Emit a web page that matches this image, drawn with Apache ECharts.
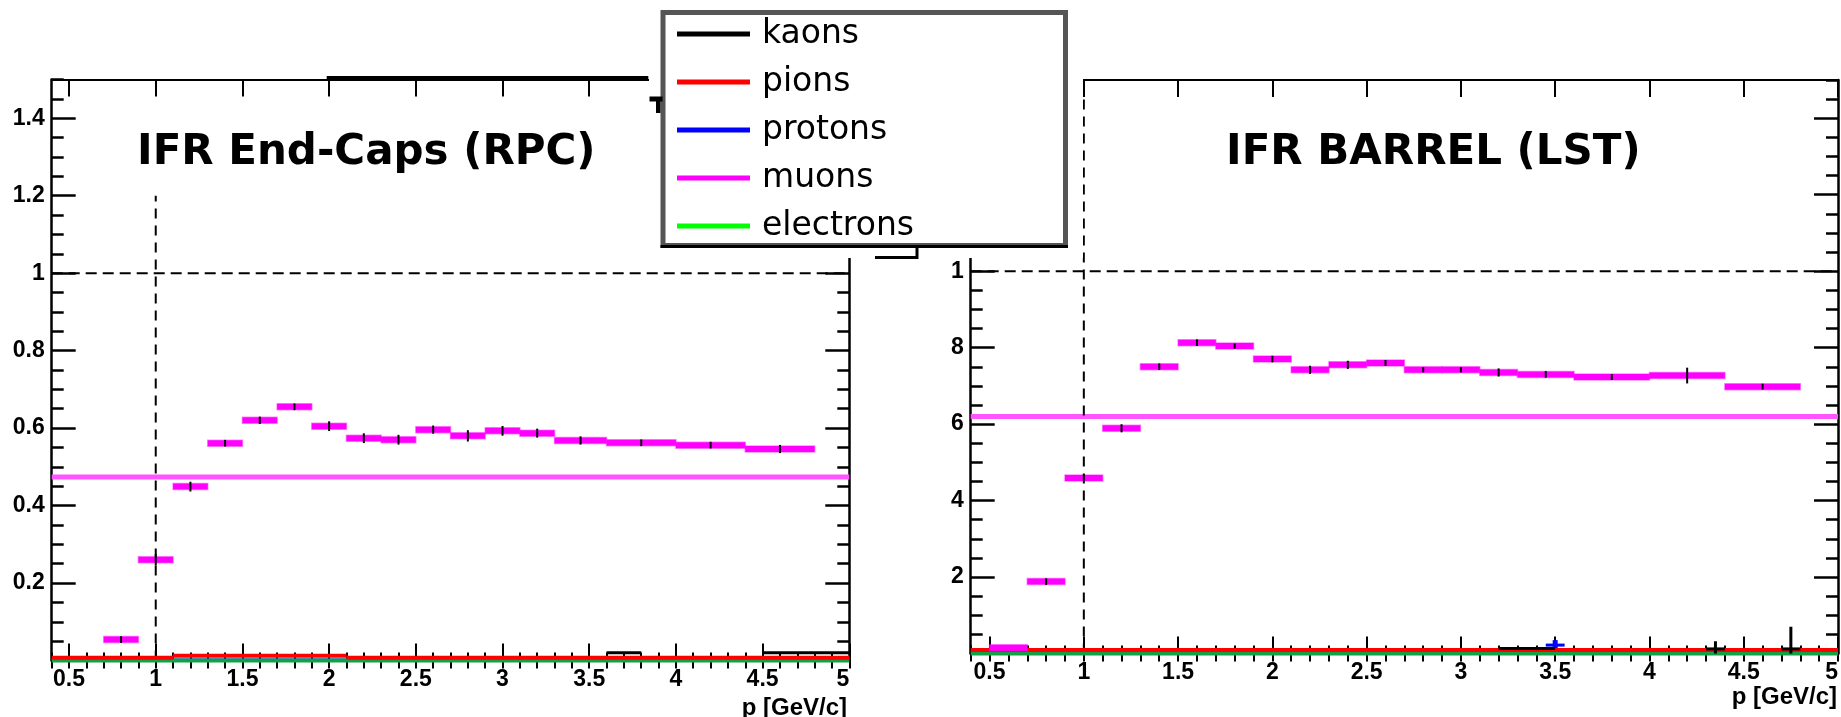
<!DOCTYPE html>
<html>
<head>
<meta charset="utf-8">
<script src="https://cdn.jsdelivr.net/npm/echarts@6/dist/echarts.min.js"></script>
<style>
  html, body { margin: 0; padding: 0; background: #ffffff; }
  #chart { width: 1841px; height: 717px; }
</style>
</head>
<body>
<div id="chart"></div>
<script>
// Momentum bins of the muon-efficiency histograms, p in GeV/c
const binLo = [0.5, 0.7, 0.9, 1.1, 1.3, 1.5, 1.7, 1.9, 2.1, 2.3, 2.5, 2.7, 2.9, 3.1, 3.3, 3.6, 4.0, 4.4];
const binHi = [0.7, 0.9, 1.1, 1.3, 1.5, 1.7, 1.9, 2.1, 2.3, 2.5, 2.7, 2.9, 3.1, 3.3, 3.6, 4.0, 4.4, 4.8];

// IFR end-caps (RPC): muon efficiency per bin and its error
const rpcMuons   = [null, 0.054, 0.260, 0.449, 0.561, 0.620, 0.655, 0.605, 0.574, 0.570, 0.596, 0.580, 0.593, 0.587, 0.568, 0.562, 0.556, 0.546];
const rpcMuonErr = [0, 0.006, 0.012, 0.010, 0.006, 0.007, 0.006, 0.010, 0.010, 0.010, 0.008, 0.012, 0.010, 0.009, 0.008, 0.006, 0.006, 0.008];
const rpcMuonMean = 0.474;

// IFR barrel (LST): muon efficiency per bin and its error
const lstMuons   = [0.015, 0.188, 0.459, 0.589, 0.750, 0.813, 0.804, 0.770, 0.742, 0.755, 0.760, 0.742, 0.742, 0.735, 0.730, 0.723, 0.727, 0.698];
const lstMuonErr = [0, 0.006, 0.008, 0.008, 0.006, 0.006, 0.004, 0.006, 0.008, 0.008, 0.005, 0.004, 0.004, 0.008, 0.006, 0.005, 0.018, 0.005];
const lstMuonMean = 0.62;

// Mis-identification rates of the other species: [pLow, pHigh, value, error]
const rpcPions     = [[0.4, 1.1, 0.007, 0], [1.1, 2.1, 0.012, 0], [2.1, 5.0, 0.007, 0]];
const rpcKaons     = [[3.6, 3.8, 0.020, 0], [4.5, 5.0, 0.020, 0]];
const rpcProtons   = [[0.4, 5.0, 0.001, 0]];
const rpcElectrons = [[0.4, 5.0, 0.000, 0]];
const lstPions     = [[0.4, 5.0, 0.009, 0]];
const lstKaons     = [[3.2, 3.5, 0.013, 0], [4.3, 4.4, 0.012, 0.020], [4.7, 4.8, 0.012, 0.058]];
const lstProtons   = [[3.25, 3.35, 0.012, 0.003], [3.45, 3.55, 0.022, 0.013]];
const lstElectrons = [[0.4, 5.0, 0.000, 0]];

// Axis ranges, tick values and labels
const pMin = 0.4, pMax = 5.0, effMin = 0, effMax = 1.5;
const pMajorTicks = [0.5, 1, 1.5, 2, 2.5, 3, 3.5, 4, 4.5, 5];
const effMajorTicks = [0.2, 0.4, 0.6, 0.8, 1.0, 1.2, 1.4];
const rpcEffLabels = [0.2, 0.4, 0.6, 0.8, 1.0, 1.2, 1.4];
const lstEffLabelValues = [0.2, 0.4, 0.6, 0.8, 1.0];
const lstEffLabels = ['2', '4', '6', '8', '1'];

// Reference guides: p = 1 GeV/c and efficiency = 1
const refP = 1.0, refEff = 1.0, rpcRefTop = 1.2;

const speciesNames = ['kaons', 'pions', 'protons', 'muons', 'electrons'];
const speciesColors = ['#000000', '#ff0000', '#0000ff', '#ff00ff', '#00ff00'];

const chart = echarts.init(document.getElementById('chart'), null, { renderer: 'canvas' });

const black = '#000000';
const labelFont = { fontFamily: 'Liberation Sans', fontWeight: 'bold', fontSize: 23, color: black };

function muonRows(vals, errs) {
  const rows = [];
  vals.forEach((v, i) => { if (v !== null) rows.push([binLo[i], binHi[i], v, errs[i]]); });
  return rows;
}

function xAxesFor(grid, showLabels) {
  const out = [];
  ['bottom', 'top'].forEach(pos => {
    out.push({
      type: 'value', gridIndex: grid, position: pos, min: pMin, max: pMax,
      axisLine: { show: true, onZero: false, lineStyle: { color: black, width: 2 } },
      axisTick: { show: true, inside: true, length: 17, customValues: pMajorTicks, lineStyle: { color: black, width: 2 } },
      axisLabel: pos === 'bottom' && showLabels
        ? Object.assign({ show: true, customValues: pMajorTicks, margin: 8, alignMaxLabel: 'right' }, labelFont)
        : { show: false },
      splitLine: { show: false }
    });
    out.push({
      type: 'value', gridIndex: grid, position: pos, min: pMin, max: pMax, interval: 0.1,
      axisLine: { show: false },
      axisTick: { show: true, inside: true, length: 8, lineStyle: { color: black, width: 2 } },
      axisLabel: { show: false }, splitLine: { show: false }
    });
  });
  return out;
}

function yAxesFor(grid, labelValues, formatter) {
  const out = [];
  ['left', 'right'].forEach(pos => {
    const lab = pos === 'left'
      ? Object.assign({ show: true, customValues: labelValues, margin: 7, formatter: formatter }, labelFont)
      : { show: false };
    out.push({
      type: 'value', gridIndex: grid, position: pos, min: effMin, max: effMax,
      axisLine: { show: true, onZero: false, lineStyle: { color: black, width: 2.5 } },
      axisTick: { show: true, inside: true, length: 24, customValues: effMajorTicks, lineStyle: { color: black, width: 2.5 } },
      axisLabel: lab, splitLine: { show: false }
    });
    out.push({
      type: 'value', gridIndex: grid, position: pos, min: effMin, max: effMax, interval: 0.05,
      axisLine: { show: false },
      axisTick: { show: true, inside: true, length: 12, lineStyle: { color: black, width: 2.5 } },
      axisLabel: { show: false }, splitLine: { show: false }
    });
  });
  return out;
}

function binSeries(name, rows, xIdx, yIdx, o) {
  return {
    type: 'custom', name: name, xAxisIndex: xIdx, yAxisIndex: yIdx, silent: true, z: o.z || 3,
    data: rows, encode: { x: [0, 1], y: 2 },
    itemStyle: { color: o.color },
    renderItem: function (params, api) {
      const lo = api.value(0), hi = api.value(1), v = api.value(2), e = api.value(3);
      const a = api.coord([lo, v]), b = api.coord([hi, v]);
      const kids = [{
        type: 'rect',
        shape: { x: a[0], y: a[1] - o.band / 2, width: b[0] - a[0], height: o.band },
        style: { fill: o.color, stroke: o.edge || null, lineWidth: o.edge ? 1.5 : 0 }
      }];
      if (e > 0) {
        const m = (lo + hi) / 2;
        const p = api.coord([m, Math.max(0, v - e)]), q = api.coord([m, v + e]);
        const pad = o.errPad || 0;
        kids.push({
          type: 'line',
          shape: { x1: p[0], y1: p[1] + pad, x2: q[0], y2: q[1] - pad },
          style: { stroke: o.errColor, lineWidth: o.errWidth || 2 }
        });
      }
      return { type: 'group', children: kids };
    }
  };
}

function guideSeries(points, xIdx, yIdx, color, width, dash, z) {
  return {
    type: 'line', xAxisIndex: xIdx, yAxisIndex: yIdx, data: points, symbol: 'none', silent: true, z: z,
    lineStyle: { color: color, width: width, type: dash },
    animation: false
  };
}

function panelSeries(xIdx, yIdx, d) {
  return [
    guideSeries([[pMin, d.mean], [pMax, d.mean]], xIdx, yIdx, '#ff55ff', 5, 'solid', 2),
    guideSeries([[pMin, refEff], [pMax, refEff]], xIdx, yIdx, black, 2, [11, 6], 4),
    guideSeries([[refP, effMin], [refP, d.refTop]], xIdx, yIdx, black, 2, [10, 7], 4),
    binSeries('protons', d.protons, xIdx, yIdx, { color: '#0000ff', band: 3, errColor: '#0000ff', errWidth: 5, z: 4 }),
    binSeries('electrons', d.electrons, xIdx, yIdx, { color: '#14a046', band: 4, z: 5 }),
    binSeries('pions', d.pions, xIdx, yIdx, { color: '#ff0000', band: 4, z: 6 }),
    binSeries('kaons', d.kaons, xIdx, yIdx, { color: black, band: 3, errColor: black, errWidth: 3, z: 7 }),
    binSeries('muons', d.muons, xIdx, yIdx, { color: '#ff00ff', band: 6, edge: 'rgba(255,0,255,0.45)', errColor: black, errWidth: 2, errPad: 1, z: 8 })
  ];
}

const xAxes = xAxesFor(0, true).concat(xAxesFor(1, true));
const yAxes = yAxesFor(0, rpcEffLabels, v => String(+v.toFixed(1)))
  .concat(yAxesFor(1, lstEffLabelValues, v => lstEffLabels[Math.round(v * 5) - 1]));

const series = []
  .concat(panelSeries(0, 0, {
    mean: rpcMuonMean, refTop: rpcRefTop, electrons: rpcElectrons, protons: rpcProtons,
    pions: rpcPions, kaons: rpcKaons, muons: muonRows(rpcMuons, rpcMuonErr)
  }))
  .concat(panelSeries(4, 4, {
    mean: lstMuonMean, refTop: effMax, electrons: lstElectrons, protons: lstProtons,
    pions: lstPions, kaons: lstKaons, muons: muonRows(lstMuons, lstMuonErr)
  }));

const titleStyle = {
  fontFamily: 'DejaVu Sans', fontWeight: 'bold', fontSize: 42, lineHeight: 48, color: black,
  textShadowColor: '#c4c4c4', textShadowOffsetX: 3, textShadowOffsetY: 3, textShadowBlur: 0
};

const option = {
  animation: false,
  backgroundColor: '#ffffff',
  title: [
    { text: 'IFR End-Caps (RPC)', left: 137, top: 129, padding: 0, textStyle: titleStyle },
    { text: 'IFR BARREL (LST)', left: 1226, top: 129, padding: 0, textStyle: titleStyle }
  ],
  grid: [
    { left: 51.7, top: 79.5, width: 797.6, height: 581 },
    { left: 970.7, top: 80, width: 868.3, height: 573.5 }
  ],
  xAxis: xAxes,
  yAxis: yAxes,
  legend: {
    orient: 'vertical', left: 677, top: 17, padding: 0, z: 100,
    selectedMode: false, icon: 'rect', itemWidth: 73, itemHeight: 5, itemGap: 14,
    data: speciesNames.map((n, i) => ({ name: n, itemStyle: { color: speciesColors[i] } })),
    textStyle: { fontFamily: 'DejaVu Sans', fontSize: 33, lineHeight: 34, color: black, padding: [0, 0, 0, 7] }
  },
  graphic: [
    // blank patch where the legend sits on top of both frames
    { type: 'rect', z: 50, shape: { x: 649, y: 0, width: 434, height: 258 }, style: { fill: '#ffffff' } },
    { type: 'rect', z: 51, shape: { x: 663, y: 12.5, width: 402.5, height: 233 }, style: { fill: '#ffffff', stroke: '#555555', lineWidth: 5 } },
    { type: 'line', z: 52, shape: { x1: 660.5, y1: 246.5, x2: 1068, y2: 246.5 }, style: { stroke: black, lineWidth: 3 } },
    { type: 'polyline', z: 52, shape: { points: [[875, 257.5], [917, 257.5], [917, 248]] }, style: { stroke: black, lineWidth: 3, fill: null } },
    { type: 'rect', z: 52, shape: { x: 649.5, y: 96.5, width: 13, height: 5 }, style: { fill: black } },
    { type: 'rect', z: 52, shape: { x: 656, y: 101, width: 4.5, height: 12 }, style: { fill: black } },
    { type: 'rect', z: 52, shape: { x: 326.7, y: 76, width: 321.6, height: 5 }, style: { fill: black } },
    { type: 'text', z: 52, style: { text: 'p [GeV/c]', x: 847, y: 708, align: 'right', verticalAlign: 'middle',
        fontFamily: 'Liberation Sans', fontWeight: 'bold', fontSize: 24, fill: black } },
    { type: 'text', z: 52, style: { text: 'p [GeV/c]', x: 1837, y: 697, align: 'right', verticalAlign: 'middle',
        fontFamily: 'Liberation Sans', fontWeight: 'bold', fontSize: 24, fill: black } }
  ],
  series: series
};

chart.setOption(option);
</script>
</body>
</html>
